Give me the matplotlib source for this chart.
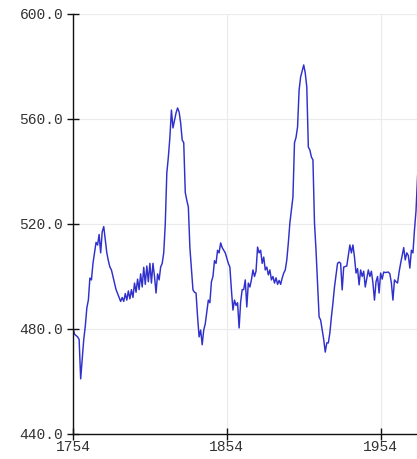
import matplotlib
matplotlib.use("Agg")
import matplotlib.pyplot as plt
from matplotlib.ticker import FormatStrFormatter

# series (rows of 10 so the two lists line up)
years = [1754, 1755, 1757, 1758, 1759, 1761, 1762, 1763, 1764, 1765,
         1766, 1767, 1769, 1770, 1771, 1772, 1773, 1774, 1776, 1777,
         1778, 1779, 1780, 1782, 1784, 1785, 1786, 1787, 1788, 1789,
         1790, 1791, 1792, 1793, 1794, 1795, 1796, 1797, 1798, 1799,
         1800, 1801, 1802, 1803, 1804, 1805, 1806, 1807, 1808, 1809,
         1810, 1811, 1812, 1813, 1814, 1815, 1816, 1817, 1818, 1819,
         1821, 1822, 1823, 1824, 1825, 1826, 1827, 1828, 1829, 1830,
         1832, 1833, 1834, 1835, 1836, 1837, 1838, 1839, 1840, 1842,
         1843, 1844, 1845, 1846, 1847, 1848, 1849, 1850, 1851, 1852,
         1853, 1855, 1856, 1857, 1858, 1859, 1860, 1861, 1862, 1863,
         1864, 1865, 1866, 1867, 1868, 1869, 1870, 1871, 1872, 1873,
         1874, 1875, 1876, 1877, 1878, 1879, 1880, 1881, 1882, 1883,
         1884, 1885, 1886, 1887, 1888, 1889, 1890, 1891, 1892, 1893,
         1894, 1895, 1896, 1897, 1898, 1899, 1900, 1901, 1902, 1904,
         1905, 1906, 1907, 1908, 1909, 1910, 1911, 1912, 1913, 1914,
         1915, 1917, 1918, 1919, 1920, 1921, 1922, 1923, 1924, 1926,
         1927, 1928, 1929, 1930, 1932, 1933, 1934, 1935, 1936, 1937,
         1938, 1939, 1940, 1941, 1942, 1943, 1944, 1946, 1947, 1948,
         1949, 1950, 1951, 1952, 1953, 1954, 1955, 1956, 1957, 1959,
         1960, 1961, 1962, 1963, 1964, 1965, 1966, 1967, 1969, 1970,
         1971, 1972, 1973, 1974, 1975, 1976, 1977, 1978, 1979, 1980]
values = [480.5, 478, 477, 476, 461, 476, 481, 488, 491, 499.4,
          498.7, 505, 513, 512, 516, 509, 517, 519, 509, 506,
          503.6, 502.5, 500, 495, 492, 490.5, 492, 490.5, 493.5, 491,
          494.5, 491.5, 495, 492, 497.5, 494, 499, 495, 501, 496,
          503.5, 497, 504, 498, 505, 497.5, 505, 500, 493.7, 501,
          498.7, 503.6, 505, 509, 520, 539.4, 545.5, 553, 563.4, 556.6,
          562.3, 564.2, 562.7, 558.5, 552, 551, 532, 529, 526.5, 511,
          494.9, 494, 493.7, 484.6, 477, 479.6, 474, 479.6, 482, 491,
          490, 498, 500, 506, 505, 510, 509, 512.8, 511, 510,
          509, 505, 503.6, 494.9, 487.2, 491, 489, 490, 480.4, 490.3,
          495, 495, 498.7, 488.4, 497.5, 496, 498.7, 502.5, 500, 502,
          511.2, 509, 510, 505, 507.4, 502.5, 503.6, 500.6, 502.5, 498.7,
          500, 497.5, 499.5, 497, 498.5, 497, 499.4, 501.3, 502.5, 506.3,
          512.8, 520.4, 525.3, 530.3, 550.9, 553, 557, 571, 576, 580.6,
          577.5, 572.2, 549.3, 548.2, 545.5, 544.4, 520.4, 510, 497.5, 484.6,
          483.4, 476, 471.2, 474.7, 474.7, 478.5, 484.6, 489.9, 496, 505,
          505.5, 505, 494.9, 503.6, 504, 508, 512, 509, 512, 507.4,
          501.3, 503, 496.8, 502.5, 500, 502, 496, 502.5, 500, 502,
          497.5, 491, 498, 500, 493.7, 501.3, 499, 501.7, 501.5, 501.7,
          501, 497.5, 491, 498.7, 498, 497.5, 501.7, 505, 511, 506.3,
          509, 508, 503.2, 510, 509, 517.7, 525, 538, 547, 560]

yticks = [440, 480, 520, 560, 600]
xticks = [1754, 1854, 1954]

fig = plt.figure(figsize=(4.17, 4.59), dpi=100)
ax = fig.add_axes([0.175, 0.0545, 0.83, 0.915])

ax.plot(years, values, color="#3030cc", linewidth=1.05)

ax.set_xlim(1754, 1979)
ax.set_ylim(440, 600)
ax.set_xticks(xticks)
ax.set_yticks(yticks)
ax.yaxis.set_major_formatter(FormatStrFormatter("%.1f"))

ax.grid(True, color="#ebebeb", linewidth=0.8)
ax.set_axisbelow(True)
for s in ["top", "right"]:
    ax.spines[s].set_visible(False)
for s in ["left", "bottom"]:
    ax.spines[s].set_linewidth(1.0)
    ax.spines[s].set_color("#111111")

ax.tick_params(axis="both", direction="inout", length=8, width=1.0, color="#111111",
               labelsize=10.5, labelcolor="#333333")
ax.tick_params(axis="y", pad=3)
ax.tick_params(axis="x", pad=0)
for lab in ax.get_xticklabels() + ax.get_yticklabels():
    lab.set_family("Liberation Mono")

plt.savefig("out.png", dpi=100)
